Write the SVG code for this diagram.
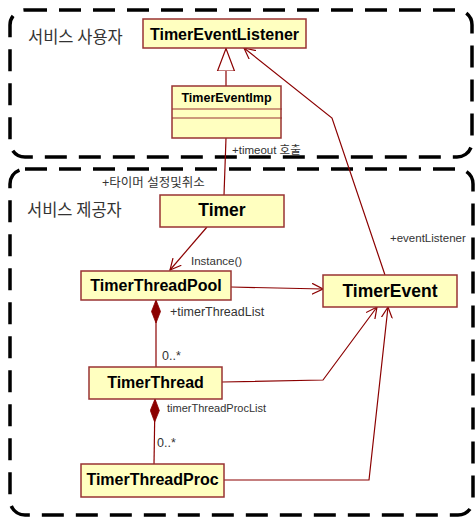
<svg xmlns="http://www.w3.org/2000/svg" width="475" height="518" viewBox="0 0 475 518">
<style>
.frame{fill:none;stroke:#000;stroke-width:3.5;stroke-dasharray:22 12}
.box{fill:#ffffc0;stroke:#993333;stroke-width:1.5}
.name{font-family:"Liberation Sans",Arial,sans-serif;font-weight:bold;fill:#000;text-anchor:middle}
.lbl{font-family:"Liberation Sans","Noto Sans CJK KR",sans-serif;fill:#333;font-size:11.5px}
.region{font-family:"Noto Sans CJK KR","Liberation Sans",sans-serif;fill:#333;font-size:16.5px}
.conn{fill:none;stroke:#8b0000;stroke-width:1.2}
</style>
<defs>
<marker id="open" viewBox="0 0 12 12" refX="11" refY="6" markerWidth="12" markerHeight="12" markerUnits="userSpaceOnUse" orient="auto">
<path d="M0,0.5 L11,6 L0,11.5" fill="none" stroke="#8b0000" stroke-width="1.2"/>
</marker>
<marker id="diamond" viewBox="0 -5 24 10" refX="0" refY="0" markerWidth="24" markerHeight="10" markerUnits="userSpaceOnUse" orient="auto">
<path d="M0,0 L11.5,-4.5 L23,0 L11.5,4.5 Z" fill="#8b0000" stroke="#8b0000" stroke-width="0.8"/>
</marker>
<marker id="gen" viewBox="0 -10 24 20" refX="23" refY="0" markerWidth="24" markerHeight="20" markerUnits="userSpaceOnUse" orient="auto">
<path d="M0,-8.5 L22.5,0 L0,8.5 Z" fill="#fff" stroke="#8b0000" stroke-width="1.2"/>
</marker>
</defs>

<g id="frames">
<rect class="frame" x="10" y="10" width="462" height="147" rx="15" ry="15"/>
<rect class="frame" x="10" y="169" width="463" height="346" rx="15" ry="15"/>
<text class="region" x="28" y="43">서비스 사용자</text>
<text class="region" x="27" y="216">서비스 제공자</text>
</g>

<g id="connectors">
<path class="conn" d="M226,86 L226,48" marker-end="url(#gen)"/>
<path class="conn" d="M226,138 L224,195"/>
<path class="conn" d="M385,275 L332,118 L244,48" marker-end="url(#open)"/>
<path class="conn" d="M207,227 L170,270" marker-end="url(#open)"/>
<path class="conn" d="M231,287 L323,289" marker-end="url(#open)"/>
<path class="conn" d="M222,382 L323,380 L377,307" marker-end="url(#open)"/>
<path class="conn" d="M224,480 L369,480 L388,307" marker-end="url(#open)"/>
<path class="conn" d="M156,300 L156,367" marker-start="url(#diamond)"/>
<path class="conn" d="M155,399 L154,464" marker-start="url(#diamond)"/>
<text class="lbl" x="232" y="154">+timeout 호출</text>
<text class="lbl" x="102" y="187" style="font-size:12.5px">+타이머 설정및취소</text>
<text class="lbl" x="390" y="242">+eventListener</text>
<text class="lbl" x="191" y="265">Instance()</text>
<text class="lbl" x="170" y="316" style="font-size:12.5px">+timerThreadList</text>
<text class="lbl" x="162" y="360" style="font-size:12.5px">0..*</text>
<text class="lbl" x="167" y="412" style="font-size:11px">timerThreadProcList</text>
<text class="lbl" x="157" y="447" style="font-size:12.5px">0..*</text>
</g>

<g id="TimerEventListener">
<rect class="box" x="143" y="19" width="163" height="29"/>
<text class="name" x="224.5" y="40" font-size="16">TimerEventListener</text>
</g>

<g id="TimerEventImp">
<rect class="box" x="172" y="86" width="109" height="52"/>
<line x1="172" y1="109" x2="282" y2="109" stroke="#993333" stroke-width="1.2"/>
<line x1="172" y1="118" x2="282" y2="118" stroke="#993333" stroke-width="1.2"/>
<text class="name" x="226.5" y="102" font-size="12.5">TimerEventImp</text>
</g>

<g id="Timer">
<rect class="box" x="160" y="195" width="124" height="32"/>
<text class="name" x="222" y="216" font-size="17.5">Timer</text>
</g>

<g id="TimerThreadPool">
<rect class="box" x="81" y="271" width="150" height="29"/>
<text class="name" x="156" y="291" font-size="16">TimerThreadPool</text>
</g>

<g id="TimerEvent">
<rect class="box" x="323" y="275" width="134" height="32"/>
<text class="name" x="390" y="297" font-size="17.5">TimerEvent</text>
</g>

<g id="TimerThread">
<rect class="box" x="89" y="367" width="133" height="32"/>
<text class="name" x="155.5" y="388" font-size="16">TimerThread</text>
</g>

<g id="TimerThreadProc">
<rect class="box" x="81" y="464" width="143" height="33"/>
<text class="name" x="152.5" y="485" font-size="16">TimerThreadProc</text>
</g>
</svg>
